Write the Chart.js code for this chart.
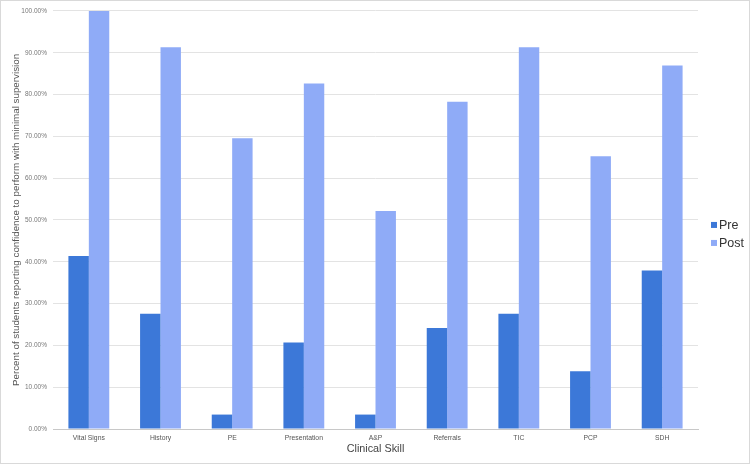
<!DOCTYPE html>
<html><head><meta charset="utf-8">
<script src="https://cdn.jsdelivr.net/npm/chart.js@4/dist/chart.umd.min.js"></script>
<style>html,body{margin:0;padding:0;background:#fff}#wrap{width:750px;height:464px;box-sizing:border-box;border:1px solid #d9d9d9}canvas{display:block}</style>
</head><body><div id="wrap"><canvas id="c" width="748" height="462"></canvas></div>
<script>
const categories = ["Vital Signs","History","PE","Presentation","A&P","Referrals","TIC","PCP","SDH"];
const preValues = [41.38,27.59,3.45,20.69,3.45,24.14,27.59,13.79,37.93];
const postValues = [100,91.30,69.57,82.61,52.17,78.26,91.30,65.22,86.96];
const seriesNames = ["Pre","Post"];
const yTicks = {min:0,max:100,step:10};

const sideLegend = {
  id:'sideLegend',
  afterDraw(chart){
    const ctx = chart.ctx, area = chart.chartArea;
    const ds = chart.data.datasets;
    const x0 = area.right + 13;
    const lh = 18;
    const startY = (area.top + area.bottom)/2 + 5;
    ctx.save();
    ctx.font = '12.5px "Liberation Sans", Arial, sans-serif';
    ctx.textBaseline = 'middle';
    ds.forEach((d,i)=>{
      const y = startY + i*lh;
      ctx.fillStyle = d.backgroundColor;
      ctx.fillRect(x0, y-3, 6, 6);
      ctx.fillStyle = '#333';
      ctx.fillText(d.label, x0+8, y+0.5);
    });
    ctx.restore();
  }
};

new Chart(document.getElementById('c'),{
  type:'bar',
  data:{labels:categories,datasets:[
    {label:seriesNames[0],data:preValues,backgroundColor:'#3c78d8',borderWidth:0},
    {label:seriesNames[1],data:postValues,backgroundColor:'#8fabf7',borderWidth:0}
  ]},
  plugins:[sideLegend],
  options:{
    responsive:false,animation:false,
    layout:{padding:{left:5,right:51,top:6,bottom:2}},
    datasets:{bar:{categoryPercentage:0.57,barPercentage:1}},
    plugins:{legend:{display:false},tooltip:{enabled:false}},
    scales:{
      x:{grid:{display:false,drawTicks:false},border:{color:'#c8c8c8'},
         afterFit(s){s.height=32;},
         ticks:{font:{family:'Liberation Sans',size:6.8},color:'#555',maxRotation:0,padding:5},
         title:{display:true,text:'Clinical Skill',font:{family:'Liberation Sans',size:10.8},color:'#444',padding:{top:0,bottom:5}}},
      y:{min:yTicks.min,max:yTicks.max,
         afterFit(s){s.width=47;},
         ticks:{stepSize:yTicks.step,font:{family:'Liberation Sans',size:6.5},color:'#777',callback:v=>v.toFixed(2)+'%',padding:6},
         grid:{color:'#e3e3e3',drawTicks:false},border:{display:false},
         title:{display:true,text:'Percent of students reporting confidence to perform with minimal supervision',font:{family:'Liberation Sans',size:9.8},color:'#555'}}
    }
  }
});
</script></body></html>
